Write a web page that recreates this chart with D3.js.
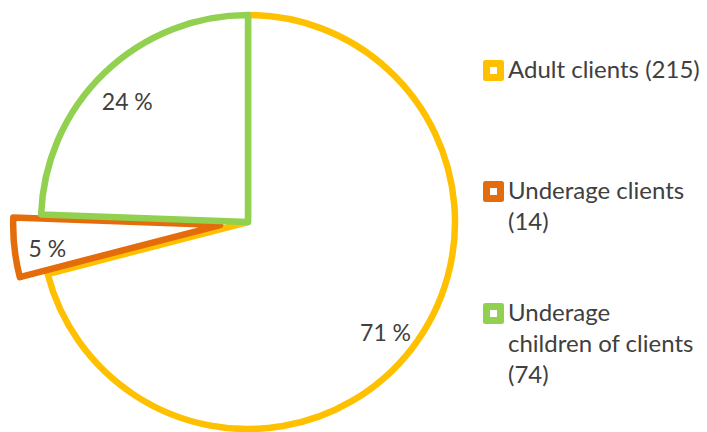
<!DOCTYPE html>
<html>
<head>
<meta charset="utf-8">
<script src="https://cdn.jsdelivr.net/npm/d3@7"></script>
<style>
  html, body { margin: 0; padding: 0; background: #fff; }
  svg { display: block; }
  text { font-family: Lato, "Open Sans", sans-serif; fill: #404040; }
</style>
</head>
<body>
<svg id="chart" width="707" height="432"></svg>
<script>
// Clients and children reached
const categories = ["Adult clients", "Underage clients", "Underage children of clients"];
const values = [215, 14, 74];
const colors = ["#FFC000", "#E46C0A", "#92D050"];
// legend text split over lines
const legendLines = [
  ["Adult clients (215)"],
  ["Underage clients", "(14)"],
  ["Underage", "children of clients", "(74)"]
];
// slice pulled out from the pie (px)
const explode = [0, 28, 0];

const W = 707, H = 432;
const cx = 248, cy = 222, R = 207;

const svg = d3.select("#chart");
const total = d3.sum(values);

const pie = d3.pie().sort(null).value(d => d);
const arcs = pie(values);
const arc = d3.arc().innerRadius(0).outerRadius(R);
const labelArc = d3.arc().innerRadius(R * 0.84).outerRadius(R * 0.84);

const g = svg.append("g").attr("transform", `translate(${cx},${cy})`);

const slices = g.selectAll("g.slice").data(arcs).join("g")
  .attr("class", "slice")
  .attr("transform", (d, i) => {
    const a = (d.startAngle + d.endAngle) / 2;
    return `translate(${explode[i] * Math.sin(a)},${-explode[i] * Math.cos(a)})`;
  });

slices.append("path")
  .attr("d", arc)
  .attr("fill", "#fff")
  .attr("stroke", (d, i) => colors[i])
  .attr("stroke-width", 6.5)
  .attr("stroke-linejoin", "round");

slices.append("text")
  .attr("transform", d => {
    const [x, y] = labelArc.centroid(d);
    return `translate(${x},${y + 5})`;
  })
  .attr("text-anchor", "middle")
  .attr("dy", "0.35em")
  .attr("font-size", 23)
  .text(d => Math.round(d.data / total * 100) + " %");

// legend
const legendTop = [78, 199, 321];
const lineH = 31;
const leg = svg.append("g");
categories.forEach((c, i) => {
  const y0 = legendTop[i];
  leg.append("rect")
    .attr("x", 483).attr("y", y0 - 18)
    .attr("width", 21).attr("height", 21)
    .attr("rx", 2.5)
    .attr("fill", colors[i]);
  leg.append("rect")
    .attr("x", 490).attr("y", y0 - 11)
    .attr("width", 7).attr("height", 7)
    .attr("fill", "#fff");
  const t = leg.append("text")
    .attr("x", 508).attr("y", y0)
    .attr("font-size", 24);
  legendLines[i].forEach((ln, k) => {
    t.append("tspan").attr("x", 508).attr("y", y0 + k * lineH).text(ln);
  });
});
</script>
</body>
</html>
